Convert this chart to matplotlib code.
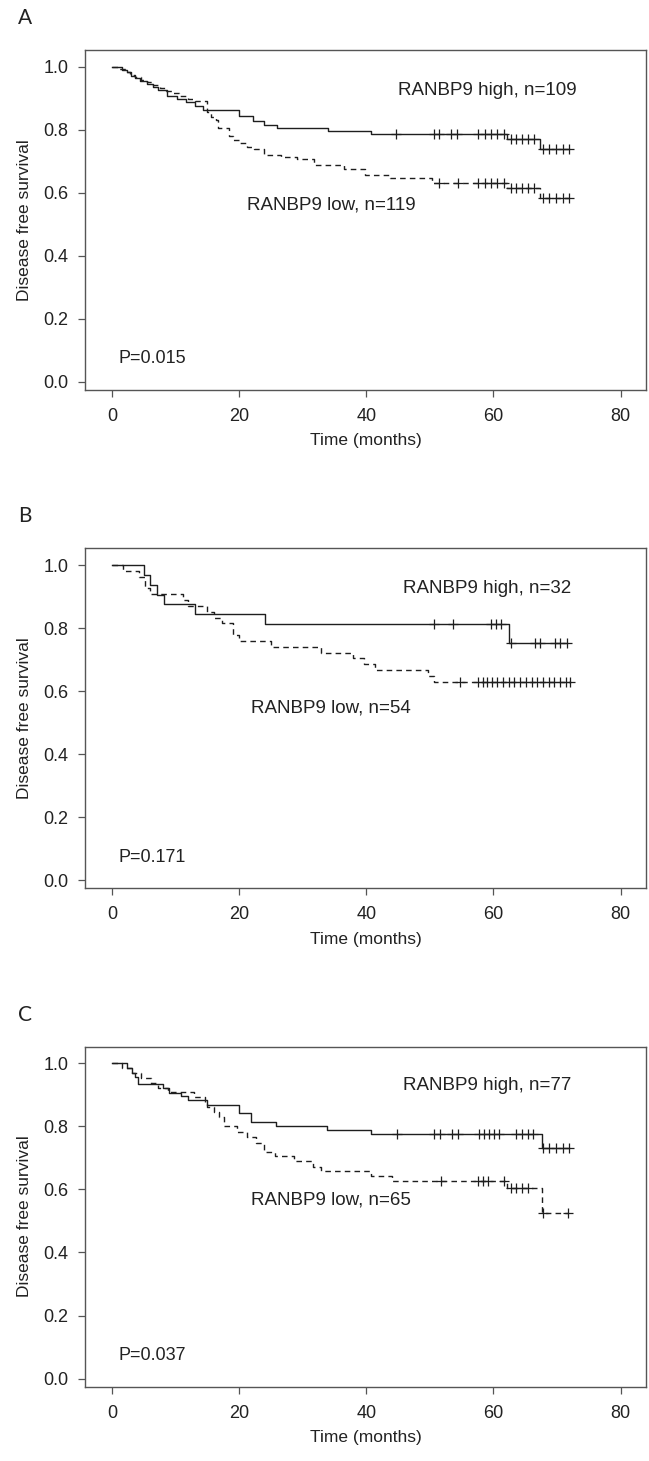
import matplotlib
matplotlib.use("Agg")
import matplotlib.pyplot as plt
import numpy as np

plt.rcParams['font.family'] = ['Liberation Sans', 'DejaVu Sans']

# panel A
a_hi_t = [1.5, 2.3, 3.0, 3.6, 4.4, 5.5, 6.5, 7.3, 8.6, 10.2, 11.7, 13.0, 14.3,
          20.0, 22.1, 23.9, 26.0, 33.9, 40.8, 62.2, 67.4]
a_hi_s = [0.991, 0.982, 0.972, 0.963, 0.954, 0.945, 0.936, 0.926, 0.908, 0.898,
          0.888, 0.876, 0.862, 0.843, 0.827, 0.815, 0.805, 0.796, 0.786, 0.771, 0.739]
a_hi_c = [44.7, 50.6, 51.4, 53.4, 54.3, 57.6, 58.6, 59.6, 60.6, 61.6,
          62.7, 63.6, 64.5, 65.4, 66.4, 67.8, 68.8, 69.9, 70.9, 71.9]
a_lo_t = [1.0, 2.0, 2.8, 3.6, 4.5, 5.5, 6.5, 7.5, 8.5, 9.5, 10.5, 12.0, 13.0,
          14.9, 15.6, 16.4, 16.6, 18.4, 19.1, 20.1, 21.3, 22.3, 23.9, 26.6, 29.1,
          31.7, 36.5, 39.8, 43.7, 50.3, 62.2, 67.3]
a_lo_s = [0.992, 0.983, 0.975, 0.966, 0.958, 0.950, 0.941, 0.933, 0.924, 0.916,
          0.907, 0.899, 0.890, 0.855, 0.842, 0.830, 0.805, 0.780, 0.768, 0.757,
          0.745, 0.738, 0.720, 0.713, 0.707, 0.689, 0.677, 0.656, 0.646, 0.630,
          0.614, 0.582]
a_lo_c = [51.5, 54.5, 57.6, 58.6, 59.6, 60.6, 61.6, 62.7, 63.6, 64.5, 65.4, 66.4,
          67.8, 68.8, 69.9, 70.9, 71.9]

# panel B
b_hi_t = [5.1, 6.0, 7.1, 8.1, 13.1, 24.0, 62.5]
b_hi_s = [0.969, 0.938, 0.906, 0.875, 0.844, 0.813, 0.754]
b_hi_c = [50.6, 53.6, 59.6, 60.4, 61.2, 62.7, 66.5, 67.4, 69.7, 70.5, 71.5]
b_lo_t = [1.8, 4.3, 5.2, 6.0, 11.2, 12.0, 14.9, 16.0, 17.3, 19.1, 20.0, 25.0,
          32.9, 37.9, 39.7, 41.3, 49.7, 50.6]
b_lo_s = [0.981, 0.963, 0.926, 0.907, 0.889, 0.870, 0.852, 0.833, 0.815, 0.778,
          0.759, 0.741, 0.722, 0.704, 0.685, 0.667, 0.648, 0.630]
b_lo_c = [54.7, 57.5, 58.3, 59.0, 59.7, 60.5, 61.5, 62.4, 63.3, 64.2, 65.1, 66.0,
          66.9, 67.8, 68.7, 69.6, 70.5, 71.4, 72.0]

# panel C
c_hi_t = [2.3, 3.1, 3.6, 4.1, 8.0, 9.0, 10.9, 12.0, 14.9, 20.0, 21.9, 25.8,
          33.8, 40.8, 67.6]
c_hi_s = [0.984, 0.970, 0.958, 0.933, 0.921, 0.907, 0.896, 0.884, 0.868, 0.841,
          0.815, 0.801, 0.788, 0.776, 0.731]
c_hi_c = [44.8, 50.6, 51.6, 53.5, 54.4, 57.7, 58.5, 59.3, 60.1, 60.9, 63.6, 64.5,
          65.4, 66.3, 67.8, 68.8, 69.9, 70.9, 71.9]
c_lo_t = [1.5, 3.1, 4.5, 6.2, 7.3, 8.8, 12.9, 14.7, 15.0, 16.0, 16.8, 17.6, 19.7,
          21.3, 22.6, 23.9, 25.6, 28.7, 31.6, 32.9, 40.7, 44.0, 62.2, 67.6]
c_lo_s = [0.985, 0.969, 0.954, 0.938, 0.923, 0.908, 0.892, 0.878, 0.862, 0.846,
          0.831, 0.800, 0.783, 0.767, 0.746, 0.720, 0.706, 0.690, 0.672, 0.659,
          0.642, 0.628, 0.603, 0.526]
c_lo_c = [51.8, 57.5, 58.4, 59.1, 61.7, 62.7, 63.6, 64.5, 65.4, 67.8, 71.8]

panels = [
    ('A', a_hi_t, a_hi_s, a_hi_c, a_lo_t, a_lo_s, a_lo_c,
     'RANBP9 high, n=109', 'RANBP9 low, n=119', 'P=0.015', 0.924, 0.561),
    ('B', b_hi_t, b_hi_s, b_hi_c, b_lo_t, b_lo_s, b_lo_c,
     'RANBP9 high, n=32', 'RANBP9 low, n=54', 'P=0.171', 0.926, 0.545),
    ('C', c_hi_t, c_hi_s, c_hi_c, c_lo_t, c_lo_s, c_lo_c,
     'RANBP9 high, n=77', 'RANBP9 low, n=65', 'P=0.037', 0.931, 0.566),
]

W, H = 649, 1461
fig = plt.figure(figsize=(W / 100, H / 100), dpi=100)
ink = '#1e1e1e'
frame = '#555555'
txt = '#222222'


def km(ax, t, s, c, ls):
    end = max(c)
    x = [0] + list(t) + [end]
    y = [1.0] + list(s) + [s[-1]]
    ax.plot(x, y, drawstyle='steps-post', color=ink, lw=1.0, ls=ls)
    idx = np.searchsorted(t, c, side='right')
    cy = np.array([1.0] + list(s))[idx]
    ax.plot(c, cy, ls='none', marker='+', ms=6.5, mew=0.9, color=ink)


for i, (lab, ht, hs, hc, lt, ls_, lc, htxt, ltxt, ptxt, hy, ly) in enumerate(panels):
    top = 50 + i * 498.3
    bot = top + 340
    ax = fig.add_axes([85 / W, 1 - bot / H, 561 / W, 340 / H])
    km(ax, ht, hs, hc, '-')
    km(ax, lt, ls_, lc, (0, (4, 3)))
    ax.set_xlim(-4.25, 84.0)
    ax.set_ylim(-0.0254, 1.053)
    ax.set_xticks([0, 20, 40, 60, 80])
    ax.set_yticks([0.0, 0.2, 0.4, 0.6, 0.8, 1.0])
    ax.set_yticklabels(['0.0', '0.2', '0.4', '0.6', '0.8', '1.0'])
    ax.tick_params(length=5, width=0.9, color=frame, labelsize=13,
                   labelcolor=txt)
    ax.tick_params(axis='x', pad=8)
    ax.tick_params(axis='y', pad=7)
    for sp in ax.spines.values():
        sp.set_color(frame)
        sp.set_linewidth(1.0)
    ax.set_ylabel('Disease free survival', fontsize=12.5, color=txt, labelpad=8)
    ax.set_xlabel('Time (months)', fontsize=12.5, color=txt, labelpad=6)
    ax.text(59.0, hy, htxt, fontsize=13.5, color=txt, ha='center', va='center')
    ax.text(34.5, ly, ltxt, fontsize=13.5, color=txt, ha='center', va='center')
    ax.text(1.0, 0.073, ptxt, fontsize=13, color=txt, ha='left', va='center')
    fig.text(25 / W, 1 - (top - 32) / H, lab, fontsize=15, family='Lato',
             color=txt, ha='center', va='center')

fig.savefig('out.png', dpi=100)
